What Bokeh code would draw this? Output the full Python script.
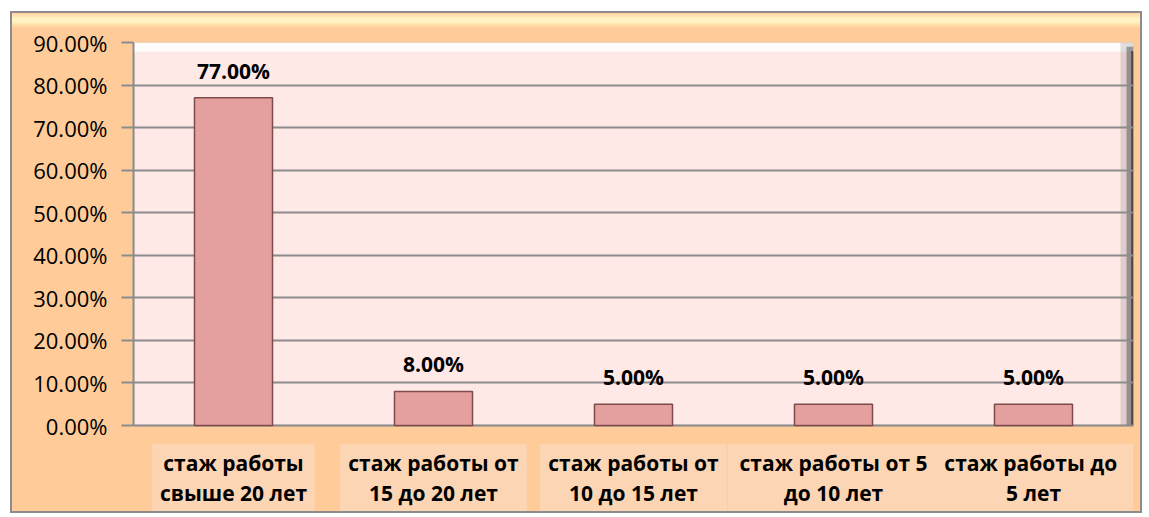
from bokeh.plotting import figure
from bokeh.models import (Range1d, FactorRange, FixedTicker, NumeralTickFormatter,
                          BoxAnnotation, LabelSet, ColumnDataSource)
from bokeh.core.properties import value
from bokeh.embed import file_html
from bokeh.resources import INLINE

categories = ["стаж работы\nсвыше 20 лет", "стаж работы от\n15 до 20 лет",
              "стаж работы от\n10 до 15 лет", "стаж работы от 5\nдо 10 лет",
              "стаж работы  до\n5 лет"]
values = [0.77, 0.08, 0.05, 0.05, 0.05]
value_labels = ["77.00%", "8.00%", "5.00%", "5.00%", "5.00%"]
y_ticks = [0.0, 0.1, 0.2, 0.3, 0.4, 0.5, 0.6, 0.7, 0.8, 0.9]

FONT = "Open Sans"
OFF_X, OFF_Y, BRD = 10, 11, 2
W, H = 1146 - OFF_X - 2 * BRD, 517 - OFF_Y - 2 * BRD
TOP, LEFT = 42 - OFF_Y - BRD, 133 - OFF_X - BRD
RIGHT = W - (1133 - OFF_X - BRD)
Y0, Y1 = 0.0, 0.9
PX_PER_UNIT = 383 / 0.9
y_start = Y1 - (H - TOP) / PX_PER_UNIT
label_center = -52 / PX_PER_UNIT

p = figure(width=W, height=H, output_backend="svg", toolbar_location=None,
           x_range=FactorRange(*categories, range_padding=0),
           y_range=Range1d(y_start, Y1))
p.styles = {"margin-left": f"{OFF_X}px", "margin-top": f"{OFF_Y}px",
            "border": f"{BRD}px solid #8C8C8C",
            "background": "linear-gradient(180deg, #FFD3A0 0px, #FFEFBE 5px, "
                          "#FFF7C8 8px, #FFE6AE 11px, #FFCC99 15px, #FFCC99 100%)"}
p.min_border = 0
p.min_border_left = LEFT
p.min_border_top = TOP
p.min_border_right = RIGHT
p.min_border_bottom = 0
p.outline_line_color = None
p.background_fill_color = "#FFCC99"
p.border_fill_alpha = 0

p.xaxis.visible = False
p.xgrid.visible = False

# plot area
n = len(categories)
p.add_layout(BoxAnnotation(bottom=Y0, top=Y1, fill_color="#FFE9E7", fill_alpha=1,
                           line_color="#8C8C8C", line_width=2, level="image"))
# bevel highlights / shadows of plot area
p.add_layout(BoxAnnotation(bottom=Y1 - 0.022, top=Y1, left=0, right=n,
                           fill_color="#FFFFFF", fill_alpha=0.85, line_color=None,
                           level="image"))
p.add_layout(BoxAnnotation(bottom=Y0, top=Y1, left=n - 0.065, right=n,
                           fill_color="#808080", fill_alpha=0.25, line_color=None,
                           level="image"))
p.add_layout(BoxAnnotation(bottom=Y0, top=Y1 - 0.01, left=n - 0.035, right=n,
                           fill_color="#404040", fill_alpha=0.45, line_color=None,
                           level="image"))
p.add_layout(BoxAnnotation(bottom=Y0, top=Y1 - 0.02, left=n - 0.012, right=n,
                           fill_color="#202020", fill_alpha=0.6, line_color=None,
                           level="image"))

p.ygrid.ticker = FixedTicker(ticks=y_ticks)
p.ygrid.bounds = (Y0, Y1)
p.ygrid.grid_line_color = "#8C8C8C"
p.ygrid.grid_line_width = 2
p.ygrid.level = "underlay"

yax = p.yaxis[0]
yax.ticker = FixedTicker(ticks=y_ticks)
yax.bounds = (Y0, Y1)
yax.formatter = NumeralTickFormatter(format="0.00%")
yax.axis_line_color = "#8C8C8C"
yax.axis_line_width = 2
yax.major_tick_line_color = "#8C8C8C"
yax.major_tick_line_width = 2
yax.major_tick_out = 12
yax.major_tick_in = 0
yax.minor_tick_line_color = None
yax.major_label_standoff = 14
yax.major_label_text_font = FONT
yax.major_label_text_font_size = "22px"
yax.major_label_text_color = "#000000"

line1 = [c.split("\n")[0] for c in categories]
line2 = [c.split("\n")[1] for c in categories]
box_w = [(12.2 * max(len(a), len(b)) + 16) / 200 for a, b in zip(line1, line2)]

src = ColumnDataSource(dict(cat=categories, val=values, lab=value_labels,
                            l1=line1, l2=line2, bw=box_w,
                            ly=[label_center] * n))

p.vbar(x="cat", top="val", width=0.39, bottom=0, source=src,
       fill_color="#E4A09F", line_color="#7E4A4A", line_width=1.5)

p.add_layout(LabelSet(x="cat", y="val", text="lab", source=src,
                      text_align="center", text_baseline="middle", y_offset=27,
                      text_font=value(FONT), text_font_style="bold",
                      text_font_size="21px", text_color="#000000"))

p.rect(x="cat", y="ly", width="bw", height=67, height_units="screen", source=src,
       fill_color="#FCD5B4", line_color=None)

for col, off in (("l1", 15), ("l2", -15)):
    p.add_layout(LabelSet(x="cat", y="ly", text=col, source=src, y_offset=off,
                          text_align="center", text_baseline="middle",
                          text_font=value(FONT), text_font_style="bold",
                          text_font_size="21px", text_color="#000000"))

open("out.html", "w").write(file_html(p, INLINE))
